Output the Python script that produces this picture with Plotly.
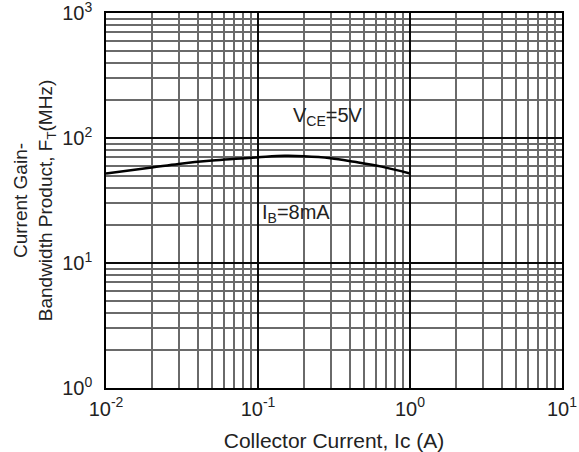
import plotly.graph_objects as go

# Data
ic_amps = [0.01, 0.02, 0.03, 0.05, 0.1, 0.15, 0.2, 0.3, 0.43, 0.65, 1.0]
ft_mhz = [52, 58, 62, 66, 70, 72, 71.5, 69, 64.5, 59, 52]

x_major = [0.01, 0.1, 1, 10]
x_major_text = ["10<sup>-2</sup>", "10<sup>-1</sup>", "10<sup>0</sup>", "10<sup>1</sup>"]
y_major = [1, 10, 100, 1000]
y_major_text = ["10<sup>0</sup>", "10<sup>1</sup>", "10<sup>2</sup>", "10<sup>3</sup>"]

x_minor = [m * d for d in [0.01, 0.1, 1] for m in range(2, 10)]
y_minor = [m * d for d in [1, 10, 100] for m in range(2, 10)]

FONT = "Liberation Sans, Arial, sans-serif"

fig = go.Figure()
fig.add_trace(go.Scatter(
    x=ic_amps, y=ft_mhz, mode="lines",
    line=dict(color="black", width=2.5, shape="spline"),
    showlegend=False, hoverinfo="skip",
))

axis_common = dict(
    type="log",
    automargin=False,
    showline=True, linecolor="black", linewidth=1.5, mirror=True,
    showgrid=True, gridcolor="#0a0a0a", gridwidth=1.8,
    tickmode="array", ticks="",
    tickfont=dict(family=FONT, size=20, color="#222"),
    ticklabeloverflow="allow",
    zeroline=False,
)

fig.update_xaxes(
    **axis_common,
    range=[-2, 1],
    tickvals=x_major, ticktext=x_major_text,
    minor=dict(tickmode="array", tickvals=x_minor, showgrid=True,
               gridcolor="#6a6a6a", gridwidth=1.6, ticks=""),
    ticklabelstandoff=2,
    title=dict(text="Collector Current, Ic (A)",
               font=dict(family=FONT, size=21, color="#222"), standoff=15),
)
fig.update_yaxes(
    **axis_common,
    range=[0, 3],
    tickvals=y_major, ticktext=y_major_text,
    minor=dict(tickmode="array", tickvals=y_minor, showgrid=True,
               gridcolor="#6a6a6a", gridwidth=1.6, ticks=""),
    ticklabelstandoff=8,
    title=dict(text="Current Gain-<br>Bandwidth Product, F<sub>T</sub>(MHz)",
               font=dict(family=FONT, size=19, color="#222"), standoff=5),
)

fig.add_annotation(x=-0.539, y=2.176, xref="x", yref="y",
                   text="V<sub>CE</sub>=5V", showarrow=False,
                   font=dict(family=FONT, size=20, color="#222"))
fig.add_annotation(x=-0.75, y=1.4, xref="x", yref="y",
                   text="I<sub>B</sub>=8mA", showarrow=False,
                   font=dict(family=FONT, size=20, color="#222"))

fig.update_layout(
    width=579, height=452,
    margin=dict(l=106, r=17, t=13, b=64),
    paper_bgcolor="white", plot_bgcolor="white",
    font=dict(family=FONT, color="#222"),
)

# remove the default 8px page margin so the figure fills the window exactly
fig.write_html(
    "out.html",
    config={"displayModeBar": False},
    post_script="document.body.style.margin='0';document.body.style.overflow='hidden';",
)
